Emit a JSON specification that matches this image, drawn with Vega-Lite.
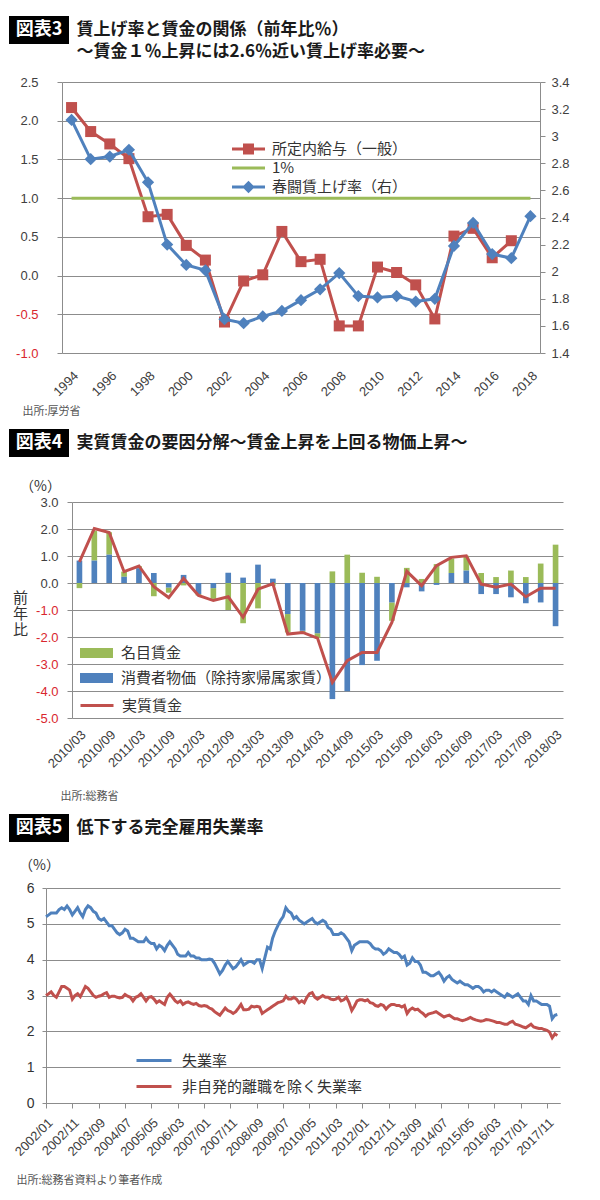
{
"$schema":"https://vega.github.io/schema/vega-lite/v6.json",
"padding":{"left":9,"top":16,"right":5,"bottom":5},
"background":"white",
"spacing":13,
"config":{
 "view":{"stroke":null},
 "font":"Noto Sans CJK JP",
 "axis":{"labelFont":"Liberation Sans","labelColor":"#404040","labelFontSize":13,"gridColor":"#8c8c8c","domainColor":"#8c8c8c","tickColor":"#8c8c8c","titleFont":"Noto Sans CJK JP","titleFontWeight":"normal"},
 "legend":{"labelFont":"Noto Sans CJK JP","labelColor":"#333333","labelFontSize":15,"padding":0,"labelLimit":400},
 "title":{"font":"Noto Sans CJK JP"}
},
"resolve":{"scale":{"color":"independent","stroke":"independent"},"legend":{"color":"independent","stroke":"independent"}},
"datasets":{
 "p1":[
  {"year":1994,"s":"w","v":2.17},{"year":1995,"s":"w","v":1.86},{"year":1996,"s":"w","v":1.70},{"year":1997,"s":"w","v":1.51},{"year":1998,"s":"w","v":0.76},{"year":1999,"s":"w","v":0.79},{"year":2000,"s":"w","v":0.39},{"year":2001,"s":"w","v":0.20},{"year":2002,"s":"w","v":-0.60},{"year":2003,"s":"w","v":-0.07},{"year":2004,"s":"w","v":0.01},{"year":2005,"s":"w","v":0.57},{"year":2006,"s":"w","v":0.18},{"year":2007,"s":"w","v":0.21},{"year":2008,"s":"w","v":-0.65},{"year":2009,"s":"w","v":-0.65},{"year":2010,"s":"w","v":0.11},{"year":2011,"s":"w","v":0.04},{"year":2012,"s":"w","v":-0.12},{"year":2013,"s":"w","v":-0.56},{"year":2014,"s":"w","v":0.51},{"year":2015,"s":"w","v":0.61},{"year":2016,"s":"w","v":0.23},{"year":2017,"s":"w","v":0.45},
  {"year":1994,"s":"o","v":1},{"year":2018,"s":"o","v":1},
  {"year":1994,"s":"r","v":3.12},{"year":1995,"s":"r","v":2.83},{"year":1996,"s":"r","v":2.85},{"year":1997,"s":"r","v":2.90},{"year":1998,"s":"r","v":2.66},{"year":1999,"s":"r","v":2.20},{"year":2000,"s":"r","v":2.05},{"year":2001,"s":"r","v":2.01},{"year":2002,"s":"r","v":1.65},{"year":2003,"s":"r","v":1.62},{"year":2004,"s":"r","v":1.67},{"year":2005,"s":"r","v":1.71},{"year":2006,"s":"r","v":1.79},{"year":2007,"s":"r","v":1.87},{"year":2008,"s":"r","v":1.99},{"year":2009,"s":"r","v":1.82},{"year":2010,"s":"r","v":1.81},{"year":2011,"s":"r","v":1.82},{"year":2012,"s":"r","v":1.78},{"year":2013,"s":"r","v":1.80},{"year":2014,"s":"r","v":2.19},{"year":2015,"s":"r","v":2.36},{"year":2016,"s":"r","v":2.13},{"year":2017,"s":"r","v":2.10},{"year":2018,"s":"r","v":2.41}
 ],
 "p2":[
  {"q":"2010/03","n":-0.19,"c":0.83,"r":0.78},{"q":"2010/06","n":1.11,"c":0.83,"r":2.02},{"q":"2010/09","n":0.83,"c":1.05,"r":1.87},{"q":"2010/12","n":0.19,"c":0.23,"r":0.42},
  {"q":"2011/03","n":0.08,"c":0.55,"r":0.63},{"q":"2011/06","n":-0.49,"c":0.37,"r":-0.14},{"q":"2011/09","n":-0.19,"c":-0.17,"r":-0.54},{"q":"2011/12","n":-0.09,"c":0.30,"r":0.17},
  {"q":"2012/03","n":-0.05,"c":-0.41,"r":-0.46},{"q":"2012/06","n":-0.40,"c":-0.19,"r":-0.65},{"q":"2012/09","n":-1.0,"c":0.38,"r":-0.51},{"q":"2012/12","n":-1.49,"c":0.20,"r":-1.27},
  {"q":"2013/03","n":-0.94,"c":0.68,"r":-0.23},{"q":"2013/06","n":-0.1,"c":0.16,"r":-0.03},{"q":"2013/09","n":-0.68,"c":-1.15,"r":-1.89},{"q":"2013/12","n":-0.05,"c":-1.77,"r":-1.83},
  {"q":"2014/03","n":-0.18,"c":-1.86,"r":-2.04},{"q":"2014/06","n":0.43,"c":-4.30,"r":-3.68},{"q":"2014/09","n":1.05,"c":-4.01,"r":-2.88},{"q":"2014/12","n":0.38,"c":-3.04,"r":-2.57},
  {"q":"2015/03","n":0.23,"c":-2.88,"r":-2.57},{"q":"2015/06","n":-0.68,"c":-0.72,"r":-1.46},{"q":"2015/09","n":0.56,"c":-0.16,"r":0.43},{"q":"2015/12","n":0.15,"c":-0.31,"r":-0.10},
  {"q":"2016/03","n":0.70,"c":-0.07,"r":0.64},{"q":"2016/06","n":0.54,"c":0.37,"r":0.95},{"q":"2016/09","n":0.55,"c":0.46,"r":1.01},{"q":"2016/12","n":0.37,"c":-0.41,"r":-0.04},
  {"q":"2017/03","n":0.22,"c":-0.41,"r":-0.16},{"q":"2017/06","n":0.46,"c":-0.53,"r":-0.04},{"q":"2017/09","n":0.22,"c":-0.75,"r":-0.51},{"q":"2017/12","n":0.72,"c":-0.72,"r":-0.19},
  {"q":"2018/03","n":1.42,"c":-1.60,"r":-0.19}
 ],
 "p3":[
  {"t":"2002/01/01","u":5.2,"n":3.0},{"t":"2002/02/01","u":5.25,"n":3.05},{"t":"2002/03/01","u":5.3,"n":3.1},{"t":"2002/04/01","u":5.3,"n":3.0},{"t":"2002/05/01","u":5.3,"n":2.95},{"t":"2002/06/01","u":5.4,"n":3.1},{"t":"2002/07/01","u":5.45,"n":3.25},{"t":"2002/08/01","u":5.4,"n":3.25},{"t":"2002/09/01","u":5.5,"n":3.2},{"t":"2002/10/01","u":5.4,"n":3.15},{"t":"2002/11/01","u":5.25,"n":2.9},{"t":"2002/12/01","u":5.35,"n":3.0},
  {"t":"2003/01/01","u":5.45,"n":3.05},{"t":"2003/02/01","u":5.3,"n":2.97},{"t":"2003/03/01","u":5.2,"n":3.1},{"t":"2003/04/01","u":5.4,"n":3.25},{"t":"2003/05/01","u":5.5,"n":3.2},{"t":"2003/06/01","u":5.45,"n":3.1},{"t":"2003/07/01","u":5.35,"n":3.0},{"t":"2003/08/01","u":5.3,"n":2.95},{"t":"2003/09/01","u":5.15,"n":2.98},{"t":"2003/10/01","u":5.1,"n":3.0},{"t":"2003/11/01","u":5.15,"n":3.05},{"t":"2003/12/01","u":5.05,"n":3.08},
  {"t":"2004/01/01","u":4.95,"n":2.95},{"t":"2004/02/01","u":4.95,"n":2.98},{"t":"2004/03/01","u":4.85,"n":2.98},{"t":"2004/04/01","u":4.75,"n":2.95},{"t":"2004/05/01","u":4.7,"n":2.93},{"t":"2004/06/01","u":4.75,"n":2.95},{"t":"2004/07/01","u":4.85,"n":3.03},{"t":"2004/08/01","u":4.8,"n":2.98},{"t":"2004/09/01","u":4.6,"n":2.95},{"t":"2004/10/01","u":4.6,"n":2.85},{"t":"2004/11/01","u":4.55,"n":2.95},{"t":"2004/12/01","u":4.5,"n":2.98},
  {"t":"2005/01/01","u":4.5,"n":3.05},{"t":"2005/02/01","u":4.5,"n":2.95},{"t":"2005/03/01","u":4.6,"n":2.85},{"t":"2005/04/01","u":4.5,"n":2.95},{"t":"2005/05/01","u":4.45,"n":2.97},{"t":"2005/06/01","u":4.45,"n":2.9},{"t":"2005/07/01","u":4.3,"n":2.8},{"t":"2005/08/01","u":4.4,"n":2.85},{"t":"2005/09/01","u":4.35,"n":2.8},{"t":"2005/10/01","u":4.25,"n":2.75},{"t":"2005/11/01","u":4.4,"n":2.95},{"t":"2005/12/01","u":4.5,"n":3.04},
  {"t":"2006/01/01","u":4.4,"n":2.95},{"t":"2006/02/01","u":4.3,"n":2.85},{"t":"2006/03/01","u":4.15,"n":2.8},{"t":"2006/04/01","u":4.1,"n":2.85},{"t":"2006/05/01","u":4.1,"n":2.75},{"t":"2006/06/01","u":4.1,"n":2.8},{"t":"2006/07/01","u":4.2,"n":2.82},{"t":"2006/08/01","u":4.1,"n":2.78},{"t":"2006/09/01","u":4.1,"n":2.75},{"t":"2006/10/01","u":4.05,"n":2.78},{"t":"2006/11/01","u":4.05,"n":2.72},{"t":"2006/12/01","u":4.0,"n":2.7},
  {"t":"2007/01/01","u":4.0,"n":2.72},{"t":"2007/02/01","u":4.0,"n":2.7},{"t":"2007/03/01","u":4.02,"n":2.65},{"t":"2007/04/01","u":4.0,"n":2.62},{"t":"2007/05/01","u":3.9,"n":2.55},{"t":"2007/06/01","u":3.75,"n":2.5},{"t":"2007/07/01","u":3.6,"n":2.45},{"t":"2007/08/01","u":3.7,"n":2.55},{"t":"2007/09/01","u":3.85,"n":2.65},{"t":"2007/10/01","u":3.95,"n":2.58},{"t":"2007/11/01","u":3.85,"n":2.55},{"t":"2007/12/01","u":3.75,"n":2.5},
  {"t":"2008/01/01","u":3.8,"n":2.55},{"t":"2008/02/01","u":3.9,"n":2.65},{"t":"2008/03/01","u":4.0,"n":2.75},{"t":"2008/04/01","u":3.85,"n":2.6},{"t":"2008/05/01","u":3.9,"n":2.6},{"t":"2008/06/01","u":3.95,"n":2.62},{"t":"2008/07/01","u":3.95,"n":2.7},{"t":"2008/08/01","u":3.9,"n":2.68},{"t":"2008/09/01","u":4.0,"n":2.7},{"t":"2008/10/01","u":4.0,"n":2.68},{"t":"2008/11/01","u":3.75,"n":2.5},{"t":"2008/12/01","u":4.05,"n":2.55},
  {"t":"2009/01/01","u":4.35,"n":2.6},{"t":"2009/02/01","u":4.3,"n":2.65},{"t":"2009/03/01","u":4.6,"n":2.7},{"t":"2009/04/01","u":4.8,"n":2.75},{"t":"2009/05/01","u":4.95,"n":2.8},{"t":"2009/06/01","u":5.1,"n":2.82},{"t":"2009/07/01","u":5.2,"n":2.85},{"t":"2009/08/01","u":5.45,"n":2.98},{"t":"2009/09/01","u":5.35,"n":2.9},{"t":"2009/10/01","u":5.3,"n":2.9},{"t":"2009/11/01","u":5.15,"n":2.95},{"t":"2009/12/01","u":5.2,"n":2.9},
  {"t":"2010/01/01","u":5.1,"n":2.8},{"t":"2010/02/01","u":5.05,"n":2.85},{"t":"2010/03/01","u":5.0,"n":2.8},{"t":"2010/04/01","u":5.05,"n":2.95},{"t":"2010/05/01","u":5.1,"n":3.05},{"t":"2010/06/01","u":5.15,"n":3.08},{"t":"2010/07/01","u":5.05,"n":2.95},{"t":"2010/08/01","u":5.0,"n":2.9},{"t":"2010/09/01","u":5.05,"n":2.95},{"t":"2010/10/01","u":5.1,"n":3.0},{"t":"2010/11/01","u":5.05,"n":2.95},{"t":"2010/12/01","u":4.9,"n":2.95},
  {"t":"2011/01/01","u":4.85,"n":2.9},{"t":"2011/02/01","u":4.7,"n":2.88},{"t":"2011/03/01","u":4.7,"n":2.9},{"t":"2011/04/01","u":4.7,"n":2.95},{"t":"2011/05/01","u":4.75,"n":2.85},{"t":"2011/06/01","u":4.7,"n":2.88},{"t":"2011/07/01","u":4.6,"n":2.95},{"t":"2011/08/01","u":4.5,"n":2.8},{"t":"2011/09/01","u":4.25,"n":2.58},{"t":"2011/10/01","u":4.4,"n":2.7},{"t":"2011/11/01","u":4.45,"n":2.85},{"t":"2011/12/01","u":4.5,"n":2.88},
  {"t":"2012/01/01","u":4.5,"n":2.88},{"t":"2012/02/01","u":4.5,"n":2.85},{"t":"2012/03/01","u":4.5,"n":2.88},{"t":"2012/04/01","u":4.45,"n":2.8},{"t":"2012/05/01","u":4.35,"n":2.78},{"t":"2012/06/01","u":4.3,"n":2.72},{"t":"2012/07/01","u":4.3,"n":2.7},{"t":"2012/08/01","u":4.25,"n":2.75},{"t":"2012/09/01","u":4.15,"n":2.72},{"t":"2012/10/01","u":4.2,"n":2.62},{"t":"2012/11/01","u":4.3,"n":2.7},{"t":"2012/12/01","u":4.25,"n":2.75},
  {"t":"2013/01/01","u":4.2,"n":2.75},{"t":"2013/02/01","u":4.2,"n":2.72},{"t":"2013/03/01","u":4.15,"n":2.72},{"t":"2013/04/01","u":4.05,"n":2.68},{"t":"2013/05/01","u":4.1,"n":2.72},{"t":"2013/06/01","u":3.85,"n":2.5},{"t":"2013/07/01","u":3.9,"n":2.6},{"t":"2013/08/01","u":4.05,"n":2.65},{"t":"2013/09/01","u":3.95,"n":2.6},{"t":"2013/10/01","u":3.95,"n":2.62},{"t":"2013/11/01","u":3.85,"n":2.55},{"t":"2013/12/01","u":3.65,"n":2.5},
  {"t":"2014/01/01","u":3.65,"n":2.42},{"t":"2014/02/01","u":3.6,"n":2.48},{"t":"2014/03/01","u":3.55,"n":2.5},{"t":"2014/04/01","u":3.55,"n":2.52},{"t":"2014/05/01","u":3.6,"n":2.55},{"t":"2014/06/01","u":3.65,"n":2.5},{"t":"2014/07/01","u":3.55,"n":2.45},{"t":"2014/08/01","u":3.4,"n":2.4},{"t":"2014/09/01","u":3.5,"n":2.43},{"t":"2014/10/01","u":3.55,"n":2.45},{"t":"2014/11/01","u":3.45,"n":2.4},{"t":"2014/12/01","u":3.4,"n":2.35},
  {"t":"2015/01/01","u":3.35,"n":2.35},{"t":"2015/02/01","u":3.4,"n":2.32},{"t":"2015/03/01","u":3.35,"n":2.3},{"t":"2015/04/01","u":3.3,"n":2.32},{"t":"2015/05/01","u":3.3,"n":2.35},{"t":"2015/06/01","u":3.25,"n":2.39},{"t":"2015/07/01","u":3.2,"n":2.35},{"t":"2015/08/01","u":3.25,"n":2.32},{"t":"2015/09/01","u":3.25,"n":2.3},{"t":"2015/10/01","u":3.2,"n":2.28},{"t":"2015/11/01","u":3.1,"n":2.3},{"t":"2015/12/01","u":3.15,"n":2.33},
  {"t":"2016/01/01","u":3.15,"n":2.32},{"t":"2016/02/01","u":3.1,"n":2.3},{"t":"2016/03/01","u":3.15,"n":2.28},{"t":"2016/04/01","u":3.1,"n":2.25},{"t":"2016/05/01","u":3.05,"n":2.25},{"t":"2016/06/01","u":3.0,"n":2.22},{"t":"2016/07/01","u":2.95,"n":2.2},{"t":"2016/08/01","u":3.05,"n":2.2},{"t":"2016/09/01","u":3.0,"n":2.25},{"t":"2016/10/01","u":2.95,"n":2.28},{"t":"2016/11/01","u":3.0,"n":2.2},{"t":"2016/12/01","u":3.05,"n":2.18},
  {"t":"2017/01/01","u":2.95,"n":2.15},{"t":"2017/02/01","u":2.85,"n":2.12},{"t":"2017/03/01","u":2.85,"n":2.1},{"t":"2017/04/01","u":2.75,"n":2.15},{"t":"2017/05/01","u":3.0,"n":2.2},{"t":"2017/06/01","u":2.85,"n":2.12},{"t":"2017/07/01","u":2.85,"n":2.1},{"t":"2017/08/01","u":2.8,"n":2.08},{"t":"2017/09/01","u":2.75,"n":2.08},{"t":"2017/10/01","u":2.75,"n":2.05},{"t":"2017/11/01","u":2.75,"n":2.03},{"t":"2017/12/01","u":2.7,"n":1.98},
  {"t":"2018/01/01","u":2.35,"n":1.82},{"t":"2018/02/01","u":2.45,"n":1.93},{"t":"2018/03/01","u":2.47,"n":1.88}
 ]
},
"vconcat":[
 {"spacing":7,"hconcat":[
  {"width":60,"height":28,"view":{"fill":"#000000","stroke":null},"data":{"values":[{"label":"図表3"}]},"mark":{"type":"text","color":"#ffffff","font":"Noto Sans CJK JP","fontWeight":"bold","fontSize":18,"baseline":"middle","align":"center"},"encoding":{"text":{"field":"label"}}},
  {"width":1,"height":47,"data":{"values":[{"k":1,"t":"賃上げ率と賃金の関係（前年比％）"},{"k":2,"t":"～賃金１％上昇には2.6％近い賃上げ率必要～"}]},"mark":{"type":"text","align":"left","baseline":"middle","fontSize":17,"fontWeight":"bold","font":"Noto Sans CJK JP","color":"#1a1a1a"},"encoding":{"text":{"field":"t"},"y":{"field":"k","type":"ordinal","scale":{"type":"point","domain":[1,2],"range":[14,36],"padding":0},"axis":null}}}
 ]},
 {"spacing":0,"hconcat":[
 {"width":6,"height":1,"data":{"values":[]},"mark":{"type":"point"}},
 {"width":478,"height":271,"data":{"name":"p1"},
  "encoding":{
   "x":{"field":"year","type":"ordinal","axis":{"values":[1994,1996,1998,2000,2002,2004,2006,2008,2010,2012,2014,2016,2018],"labelAngle":-45,"labelAlign":"right","labelBaseline":"top","labelPadding":16,"ticks":false,"domain":false,"grid":false,"labelFontSize":13,"title":"出所:厚労省","titleX":-40,"titleY":58,"titleAlign":"left","titleBaseline":"middle","titleFontSize":11,"titleColor":"#555555","titleAngle":0}},
   "color":{"field":"s","type":"nominal","scale":{"domain":["w","o","r"],"range":["#c0504d","#9bbb59","#4f81bd"]},
    "legend":{"title":null,"orient":"none","legendX":229.5,"legendY":57,"symbolSize":400,"labelOffset":13.5,"rowPadding":1,
     "labelExpr":"datum.value=='w'?'所定内給与（一般）':datum.value=='o'?'1%':'春闘賃上げ率（右）'",
     "encode":{"symbols":{"update":{
      "shape":{"signal":"datum.value=='o'?'M-1.65,-0.15L1.65,-0.15L1.65,0.15L-1.65,0.15Z':datum.value=='w'?'M-1.65,-0.15L1.65,-0.15L1.65,0.15L-1.65,0.15Z M-0.55,-0.55L0.55,-0.55L0.55,0.55L-0.55,0.55Z':'M-1.65,-0.15L1.65,-0.15L1.65,0.15L-1.65,0.15Z M0,-0.62L0.62,0L0,0.62L-0.62,0Z'"},
      "fill":{"signal":"datum.value=='o'?'#9bbb59':datum.value=='w'?'#c0504d':'#4f81bd'"},
      "stroke":{"value":"transparent"},"strokeWidth":{"value":0},"opacity":{"value":1},"fillOpacity":{"value":1}}}}}}
  },
  "layer":[
   {"transform":[{"filter":"datum.s != 'r'"}],
    "encoding":{"y":{"field":"v","type":"quantitative","scale":{"domain":[-1,2.5],"nice":false,"zero":false},
     "axis":{"values":[-1,-0.5,0,0.5,1,1.5,2,2.5],"format":".1f","labelExpr":"replace(datum.label,'−','-')","grid":true,"domain":true,"ticks":true,"tickSize":5,"labelPadding":19,"labelFontSize":13,"labelColor":{"condition":{"test":"datum.value < 0","value":"#d9262e"},"value":"#404040"},"title":null}}},
    "layer":[
     {"mark":{"type":"line","strokeWidth":3}},
     {"transform":[{"filter":"datum.s == 'w'"}],"mark":{"type":"point","shape":"square","filled":true,"size":121,"opacity":1}}
    ]},
   {"transform":[{"filter":"datum.s == 'r'"}],
    "encoding":{"y":{"field":"v","type":"quantitative","scale":{"domain":[1.4,3.4],"nice":false,"zero":false},
     "axis":{"orient":"right","values":[1.4,1.6,1.8,2,2.2,2.4,2.6,2.8,3,3.2,3.4],"format":"~g","grid":false,"domain":true,"ticks":true,"tickSize":5,"labelPadding":6,"labelFontSize":13,"title":null}}},
    "layer":[
     {"mark":{"type":"line","strokeWidth":3}},
     {"mark":{"type":"point","shape":"diamond","filled":true,"size":150,"opacity":1}}
    ]}
  ],
  "resolve":{"scale":{"y":"independent"}}
 }]},
 {"spacing":7,"hconcat":[
  {"width":60,"height":28,"view":{"fill":"#000000","stroke":null},"data":{"values":[{"label":"図表4"}]},"mark":{"type":"text","color":"#ffffff","font":"Noto Sans CJK JP","fontWeight":"bold","fontSize":18,"baseline":"middle","align":"center"},"encoding":{"text":{"field":"label"}}},
  {"width":1,"height":38,"data":{"values":[{"k":1,"t":"実質賃金の要因分解～賃金上昇を上回る物価上昇～"}]},"mark":{"type":"text","align":"left","baseline":"middle","fontSize":17,"fontWeight":"bold","font":"Noto Sans CJK JP","color":"#1a1a1a"},"encoding":{"text":{"field":"t"},"y":{"field":"k","type":"ordinal","scale":{"type":"point","domain":[1,2],"range":[14,36],"padding":0},"axis":null}}}
 ]},
 {"spacing":0,"hconcat":[
 {"width":3,"height":1,"data":{"values":[]},"mark":{"type":"point"}},
 {"width":491,"height":216,"data":{"name":"p2"},
  "title":{"text":"（%）","anchor":"start","frame":"group","dx":-52,"offset":2,"fontSize":14,"fontWeight":"normal","color":"#333333"},
  "encoding":{
   "x":{"field":"q","type":"ordinal","scale":{"paddingInner":0.62,"paddingOuter":0.31},
    "axis":{"values":["2010/03","2010/09","2011/03","2011/09","2012/03","2012/09","2013/03","2013/09","2014/03","2014/09","2015/03","2015/09","2016/03","2016/09","2017/03","2017/09","2018/03"],"labelAngle":-45,"labelAlign":"right","labelBaseline":"top","labelPadding":10,"ticks":false,"domain":false,"grid":false,"labelFontSize":13,"title":"出所:総務省","titleX":-12,"titleY":78,"titleAlign":"left","titleBaseline":"middle","titleFontSize":11,"titleColor":"#555555","titleAngle":0}},
   "y":{"field":"v","type":"quantitative","scale":{"domain":[-5,3],"nice":false},
    "axis":{"values":[-5,-4,-3,-2,-1,0,1,2,3],"format":".1f","labelExpr":"replace(datum.label,'−','-')","grid":true,"domain":true,"ticks":true,"tickSize":5,"labelPadding":9,"labelFontSize":13,"labelColor":{"condition":{"test":"datum.value < 0","value":"#d9262e"},"value":"#404040"},
     "title":["前","年","比"],"titleAngle":0,"titleX":-52,"titleY":88,"titleAlign":"center","titleBaseline":"top","titleFontSize":15,"titleLineHeight":16,"titleColor":"#333333"}}
  },
  "layer":[
   {"transform":[{"fold":["n","c"],"as":["s","v"]}],
    "mark":{"type":"bar"},
    "encoding":{
     "color":{"field":"s","type":"nominal","scale":{"domain":["n","c"],"range":["#9bbb59","#4f81bd"]},
      "legend":{"title":null,"orient":"none","legendX":76.5,"legendY":140,"symbolType":"M-1.65,-0.5L1.65,-0.5L1.65,0.5L-1.65,0.5Z","symbolSize":400,"labelOffset":13.5,"rowPadding":6,"labelExpr":"datum.value=='n'?'名目賃金':'消費者物価（除持家帰属家賃）'"}},
     "order":{"field":"s","sort":"ascending"}
    }},
   {"transform":[{"fold":["r"],"as":["s","v"]}],
    "mark":{"type":"line","strokeWidth":3},
    "encoding":{
     "stroke":{"datum":"実質賃金","scale":{"domain":["実質賃金"],"range":["#c0504d"]},
      "legend":{"title":null,"orient":"none","legendX":76.5,"legendY":192,"symbolType":"M-1.65,0L1.65,0","symbolSize":400,"symbolStrokeWidth":3,"labelOffset":13.5}}
    }}
  ]
 }]},
 {"spacing":7,"hconcat":[
  {"width":60,"height":28,"view":{"fill":"#000000","stroke":null},"data":{"values":[{"label":"図表5"}]},"mark":{"type":"text","color":"#ffffff","font":"Noto Sans CJK JP","fontWeight":"bold","fontSize":18,"baseline":"middle","align":"center"},"encoding":{"text":{"field":"label"}}},
  {"width":1,"height":32,"data":{"values":[{"k":1,"t":"低下する完全雇用失業率"}]},"mark":{"type":"text","align":"left","baseline":"middle","fontSize":17,"fontWeight":"bold","font":"Noto Sans CJK JP","color":"#1a1a1a"},"encoding":{"text":{"field":"t"},"y":{"field":"k","type":"ordinal","scale":{"type":"point","domain":[1,2],"range":[14,36],"padding":0},"axis":null}}}
 ]},
 {"spacing":0,"hconcat":[
 {"width":3,"height":1,"data":{"values":[]},"mark":{"type":"point"}},
 {"width":514,"height":215,"data":{"name":"p3"},
  "title":{"text":"（%）","anchor":"start","frame":"group","dx":-27,"offset":8,"fontSize":14,"fontWeight":"normal","color":"#333333"},
  "transform":[{"fold":["u","n"],"as":["s","v"]}],
  "mark":{"type":"line","strokeWidth":3},
  "encoding":{
   "x":{"field":"t","type":"temporal","scale":{"domain":[{"year":2002,"month":1,"date":1},{"year":2018,"month":4,"date":1}]},
    "axis":{"values":[{"year":2002,"month":1,"date":1},{"year":2002,"month":11,"date":1},{"year":2003,"month":9,"date":1},{"year":2004,"month":7,"date":1},{"year":2005,"month":5,"date":1},{"year":2006,"month":3,"date":1},{"year":2007,"month":1,"date":1},{"year":2007,"month":11,"date":1},{"year":2008,"month":9,"date":1},{"year":2009,"month":7,"date":1},{"year":2010,"month":5,"date":1},{"year":2011,"month":3,"date":1},{"year":2012,"month":1,"date":1},{"year":2012,"month":11,"date":1},{"year":2013,"month":9,"date":1},{"year":2014,"month":7,"date":1},{"year":2015,"month":5,"date":1},{"year":2016,"month":3,"date":1},{"year":2017,"month":1,"date":1},{"year":2017,"month":11,"date":1}],
     "format":"%Y/%m","labelAngle":-45,"labelAlign":"right","labelBaseline":"top","labelPadding":8,"labelFlush":false,"ticks":true,"tickSize":5,"domain":true,"grid":false,"labelFontSize":13,"labelBound":false,"labelOverlap":false,
     "title":"出所:総務省資料より筆者作成","titleX":-30,"titleY":77,"titleAlign":"left","titleBaseline":"middle","titleFontSize":11,"titleColor":"#555555","titleAngle":0}},
   "y":{"field":"v","type":"quantitative","scale":{"domain":[0,6],"nice":false},
    "axis":{"values":[0,1,2,3,4,5,6],"grid":true,"domain":true,"ticks":true,"tickSize":4,"labelPadding":8,"labelFontSize":14,"labelColor":"#333333","title":null}},
   "color":{"field":"s","type":"nominal","scale":{"domain":["u","n"],"range":["#4f81bd","#c0504d"]},
    "legend":{"title":null,"orient":"none","legendX":133.5,"legendY":161,"symbolType":"M-1.75,0L1.75,0","symbolSize":400,"symbolStrokeWidth":3,"labelOffset":16.5,"rowPadding":6,"labelExpr":"datum.value=='u'?'失業率':'非自発的離職を除く失業率'"}}
  }
 }]}
]
}
